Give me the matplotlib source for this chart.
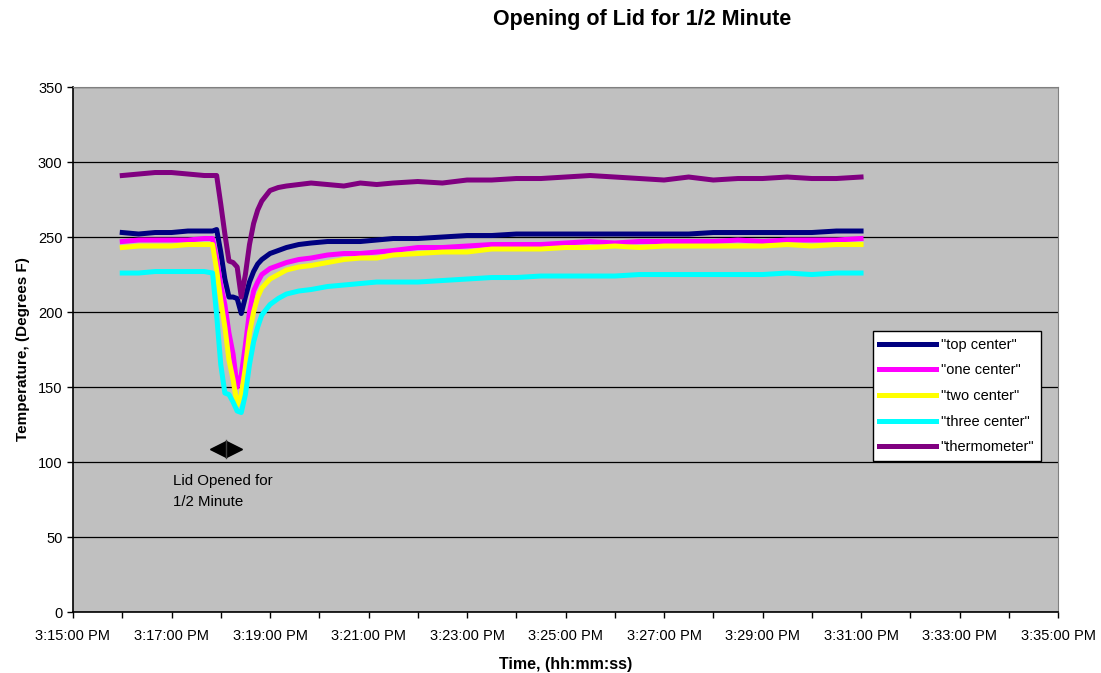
import matplotlib
matplotlib.use("Agg")
import matplotlib.pyplot as plt
from matplotlib.ticker import MultipleLocator

plt.rcParams['font.family'] = ['Liberation Sans', 'DejaVu Sans']

# time of each reading, seconds after 3:15:00 PM
seconds = [60, 80, 100, 120, 140, 160, 170, 175, 180, 185, 190, 195, 200, 205, 210, 215,
           220, 225, 230, 240, 250, 260, 275, 290, 310, 330, 350, 370, 390, 420, 450, 480,
           510, 540, 570, 600, 630, 660, 690, 720, 750, 780, 810, 840, 870, 900, 930, 960]

top_center = [253, 252, 253, 253, 254, 254, 254, 255, 240, 222, 210, 210, 209, 199, 210, 220,
              227, 232, 235, 239, 241, 243, 245, 246, 247, 247, 247, 248, 249, 249, 250, 251,
              251, 252, 252, 252, 252, 252, 252, 252, 252, 253, 253, 253, 253, 253, 254, 254]
one_center = [247, 248, 248, 248, 248, 249, 249, 235, 218, 205, 186, 172, 150, 158, 178, 200,
              214, 220, 225, 229, 231, 233, 235, 236, 238, 239, 239, 240, 241, 243, 243, 244,
              245, 245, 245, 246, 247, 246, 247, 247, 247, 247, 248, 247, 248, 248, 248, 249]
two_center = [243, 244, 244, 244, 245, 245, 245, 228, 208, 190, 168, 155, 138, 145, 163, 186,
              200, 210, 216, 222, 225, 228, 230, 231, 233, 235, 236, 236, 238, 239, 240, 240,
              242, 242, 242, 243, 243, 244, 243, 244, 244, 244, 244, 244, 245, 244, 245, 245]
three_center = [226, 226, 227, 227, 227, 227, 226, 198, 165, 146, 145, 140, 134, 133, 145, 165,
                180, 190, 198, 205, 209, 212, 214, 215, 217, 218, 219, 220, 220, 220, 221, 222,
                223, 223, 224, 224, 224, 224, 225, 225, 225, 225, 225, 225, 226, 225, 226, 226]
thermometer = [291, 292, 293, 293, 292, 291, 291, 291, 272, 252, 234, 233, 230, 210, 225, 245,
               259, 268, 274, 281, 283, 284, 285, 286, 285, 284, 286, 285, 286, 287, 286, 288,
               288, 289, 289, 290, 291, 290, 289, 288, 290, 288, 289, 289, 290, 289, 289, 290]

series = [('"top center"', top_center, '#000080'),
          ('"one center"', one_center, '#FF00FF'),
          ('"two center"', two_center, '#FFFF00'),
          ('"three center"', three_center, '#00FFFF'),
          ('"thermometer"', thermometer, '#800080')]

tick_labels = ['3:15:00 PM', '3:17:00 PM', '3:19:00 PM', '3:21:00 PM', '3:23:00 PM', '3:25:00 PM',
               '3:27:00 PM', '3:29:00 PM', '3:31:00 PM', '3:33:00 PM', '3:35:00 PM']

minutes = [s / 60 for s in seconds]

fig = plt.figure(figsize=(11.01, 6.73), dpi=100)
ax = fig.add_axes([0.0663, 0.0906, 0.8947, 0.7801])
ax.set_facecolor('#C0C0C0')

for nome, valores, cor in series:
    ax.plot(minutes, valores, color=cor, lw=3.6, label=nome, solid_joinstyle='round')

ax.set_xlim(0, 20)
ax.set_ylim(0, 350)
ax.set_xticks(range(0, 21, 2))
ax.set_xticklabels(tick_labels)
ax.xaxis.set_minor_locator(MultipleLocator(1))
ax.yaxis.set_major_locator(MultipleLocator(50))
ax.tick_params(axis='both', direction='out', length=4, width=1, labelsize=10.5, colors='black')
ax.tick_params(axis='x', which='minor', direction='out', length=4, width=1)
ax.tick_params(axis='x', pad=8)
ax.grid(axis='y', color='black', lw=0.9)
ax.set_axisbelow(True)
for lado in ['top', 'right']:
    ax.spines[lado].set_color('#808080')
for lado in ['left', 'bottom']:
    ax.spines[lado].set_color('black')
    ax.spines[lado].set_linewidth(1.2)

ax.set_xlabel('Time, (hh:mm:ss)', fontsize=11.5, fontweight='bold', labelpad=10)
ax.set_ylabel('Temperature, (Degrees F)', fontsize=11, fontweight='bold', labelpad=6)
fig.text(0.583, 0.971, 'Opening of Lid for 1/2 Minute', ha='center', va='center',
         fontsize=15.5, fontweight='bold')

# marcador da tampa aberta
ax.plot([2.95], [109], marker='<', color='black', markersize=11)
ax.plot([3.27], [109], marker='>', color='black', markersize=11)
ax.plot([3.11, 3.11], [103, 115], color='#404040', lw=1)
ax.text(2.04, 92, 'Lid Opened for\n1/2 Minute', fontsize=10.8, va='top', ha='left', linespacing=1.6)

leg = ax.legend(loc='upper left', bbox_to_anchor=(0.812, 0.535), fontsize=10.5, frameon=True,
                fancybox=False, edgecolor='black', facecolor='white', framealpha=1,
                handlelength=3.9, borderaxespad=0, labelspacing=0.8, handletextpad=0.3,
                borderpad=0.45)
leg.get_frame().set_linewidth(1)

fig.savefig('out.png', dpi=100)
